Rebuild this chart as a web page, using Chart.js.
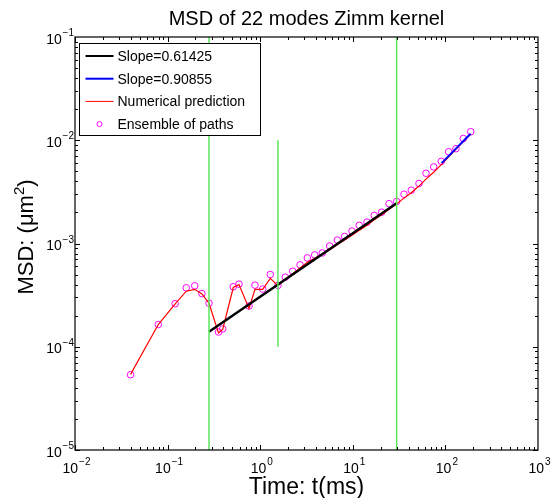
<!DOCTYPE html>
<html>
<head>
<meta charset="utf-8">
<script src="https://cdn.jsdelivr.net/npm/chart.js@4.4.1/dist/chart.umd.min.js"></script>
<style>
  body { margin: 0; background: #fff; }
  #wrap { width: 551px; height: 498px; }
</style>
</head>
<body>
<div id="wrap"><canvas id="msd" width="551" height="498"></canvas></div>
<script>
// time points (ms) shared by the simulated paths and the numerical prediction
const timeMs = [0.0398, 0.0793, 0.1207, 0.159, 0.1964, 0.2347, 0.280, 0.3545, 0.3937, 0.512,
  0.590, 0.757, 0.878, 1.064, 1.286, 1.555, 1.867, 2.246, 2.694, 3.228,
  3.878, 4.684, 5.633, 6.804, 8.17, 9.80, 11.73, 14.24, 17.04, 20.51,
  24.65, 29.75, 35.71, 42.81, 51.84, 61.72, 74.75, 90.35, 108.5, 130.1,
  156.1, 187.7];

// ensemble of paths (circles)
const msdPaths = [5.36e-5, 1.64e-4, 2.61e-4, 3.72e-4, 3.89e-4, 3.27e-4, 2.64e-4, 1.39e-4, 1.49e-4, 3.81e-4,
  4.04e-4, 2.48e-4, 3.95e-4, 3.62e-4, 5.01e-4, 3.93e-4, 4.72e-4, 5.39e-4, 6.21e-4, 7.25e-4,
  7.75e-4, 8.10e-4, 9.46e-4, 1.08e-3, 1.17e-3, 1.32e-3, 1.50e-3, 1.61e-3, 1.87e-3, 2.01e-3,
  2.43e-3, 2.55e-3, 3.00e-3, 3.28e-3, 3.81e-3, 4.79e-3, 5.52e-3, 6.25e-3, 7.74e-3, 8.28e-3,
  1.04e-2, 1.21e-2];

// numerical prediction (red line)
const msdNumeric = [5.4e-5, 1.64e-4, 2.6e-4, 3.45e-4, 3.6e-4, 3.25e-4, 2.64e-4, 1.36e-4, 1.47e-4, 3.75e-4,
  4.0e-4, 2.35e-4, 3.6e-4, 3.6e-4, 4.6e-4, 3.9e-4, 4.5e-4, 5.1e-4, 5.8e-4, 6.6e-4,
  7.2e-4, 7.9e-4, 8.7e-4, 9.7e-4, 1.08e-3, 1.2e-3, 1.34e-3, 1.5e-3, 1.7e-3, 1.9e-3,
  2.15e-3, 2.42e-3, 2.75e-3, 3.1e-3, 3.6e-3, 4.2e-3, 4.9e-3, 5.8e-3, 6.9e-3, 8.2e-3,
  9.7e-3, 1.15e-2];

// power law fits
const slowFitT = [0.280, 29.75];
const slowFitMsd = [1.4e-4, 2.45e-3];
const fastFitT = [91, 187];
const fastFitMsd = [6.0e-3, 1.154e-2];

// vertical green markers: time, lower y, upper y
const markerT = [0.280, 1.555, 29.75];
const markerLo = [1e-5, 1e-4, 1e-5];
const markerHi = [1e-1, 1e-2, 1e-1];

const xDecades = [1e-2, 1e-1, 1e0, 1e1, 1e2, 1e3];
const yDecades = [1e-5, 1e-4, 1e-3, 1e-2, 1e-1];

const FONT = "'Liberation Sans', Arial, Helvetica, sans-serif";
const expOf = v => String(Math.round(Math.log10(v))).replace('-', '\u2212');
const pts = (xs, ys) => xs.map((x, i) => ({x: x, y: ys[i]}));

const datasets = [];
markerT.forEach((t, i) => {
  datasets.push({
    label: 'marker' + i,
    data: [{x: t, y: markerLo[i]}, {x: t, y: markerHi[i]}],
    borderColor: 'rgb(90,230,90)', borderWidth: 1.5, pointRadius: 0
  });
});
datasets.push({
  label: 'Slope=0.61425', inLegend: true,
  data: pts(slowFitT, slowFitMsd),
  borderColor: '#000', borderWidth: 2.5, pointRadius: 0
});
datasets.push({
  label: 'Slope=0.90855', inLegend: true,
  data: pts(fastFitT, fastFitMsd),
  borderColor: '#0000ff', borderWidth: 2, pointRadius: 0
});
datasets.push({
  label: 'Numerical prediction', inLegend: true,
  data: pts(timeMs, msdNumeric),
  borderColor: '#ff0000', borderWidth: 1.2, pointRadius: 0
});
datasets.push({
  label: 'Ensemble of paths', inLegend: true, isMarker: true,
  data: pts(timeMs, msdPaths),
  showLine: false, borderColor: '#ff00ff', backgroundColor: 'rgba(0,0,0,0)',
  pointRadius: 3.3, pointBorderWidth: 1, pointStyle: 'circle'
});

// matlab style box, inward ticks, power-of-ten labels, titles and boxed legend
const boxPlugin = {
  id: 'matlabBox',
  afterDraw(chart) {
    const ctx = chart.ctx;
    const {left, right, top, bottom} = chart.chartArea;
    const xs = chart.scales.x, ys = chart.scales.y;
    ctx.save();
    ctx.strokeStyle = '#000';
    ctx.lineWidth = 1;
    ctx.beginPath();
    for (let e = -2; e <= 2; e++) {
      for (let m = 1; m <= 9; m++) {
        const px = Math.round(xs.getPixelForValue(m * Math.pow(10, e))) + 0.5;
        const len = m === 1 ? 5 : 3;
        ctx.moveTo(px, bottom); ctx.lineTo(px, bottom - len);
        ctx.moveTo(px, top); ctx.lineTo(px, top + len);
      }
    }
    for (let e = -5; e <= -2; e++) {
      for (let m = 1; m <= 9; m++) {
        const py = Math.round(ys.getPixelForValue(m * Math.pow(10, e))) + 0.5;
        const len = m === 1 ? 5 : 3;
        ctx.moveTo(left, py); ctx.lineTo(left + len, py);
        ctx.moveTo(right, py); ctx.lineTo(right - len, py);
      }
    }
    ctx.stroke();
    ctx.lineWidth = 1.2;
    ctx.strokeRect(left, top, right - left, bottom - top);

    // tick labels 10^n
    ctx.fillStyle = '#000';
    ctx.textBaseline = 'alphabetic';
    ctx.textAlign = 'left';
    const big = '14px ' + FONT, small = '10px ' + FONT;
    xDecades.forEach(v => {
      const px = xs.getPixelForValue(v);
      const ex = expOf(v);
      ctx.font = big; const wb = ctx.measureText('10').width;
      ctx.font = small; const ws = ctx.measureText(ex).width;
      const x0 = px - (wb + ws) / 2 + 1;
      ctx.font = big; ctx.fillText('10', x0, bottom + 22.7);
      ctx.font = small; ctx.fillText(ex, x0 + wb + 1, bottom + 14.5);
    });
    yDecades.forEach(v => {
      const py = ys.getPixelForValue(v);
      const ex = expOf(v);
      ctx.font = small; const ws = ctx.measureText(ex).width;
      ctx.font = big; const wb = ctx.measureText('10').width;
      const xe = left - 1 - ws;
      ctx.fillText('10', xe - 0.8 - wb, py + 6.7);
      ctx.font = small; ctx.fillText(ex, xe, py - 1);
    });

    // titles
    const cx = (left + right) / 2;
    ctx.textAlign = 'center';
    ctx.font = '20px ' + FONT;
    ctx.fillText('MSD of 22 modes Zimm kernel', cx, 24.5);
    ctx.font = '23px ' + FONT;
    ctx.fillText('Time: t(ms)', cx, 494);

    ctx.save();
    ctx.translate(33.3, 237);
    ctx.rotate(-Math.PI / 2);
    ctx.textAlign = 'left';
    const yt1 = 'MSD: (\u03BCm', yt2 = '2', yt3 = ')';
    const f1 = '22px ' + FONT, f2 = '15px ' + FONT;
    ctx.font = f1; const w1 = ctx.measureText(yt1).width, w3 = ctx.measureText(yt3).width;
    ctx.font = f2; const w2 = ctx.measureText(yt2).width;
    let tx = -(w1 + w2 + w3) / 2;
    ctx.font = f1; ctx.fillText(yt1, tx, 0); tx += w1;
    ctx.font = f2; ctx.fillText(yt2, tx, -9); tx += w2;
    ctx.font = f1; ctx.fillText(yt3, tx, 0);
    ctx.restore();

    // legend
    const items = chart.data.datasets.filter(d => d.inLegend);
    const bx = left + 4.5, by = top + 6.5, bw = 181, bh = 92;
    ctx.fillStyle = '#fff';
    ctx.fillRect(bx, by, bw, bh);
    ctx.lineWidth = 1;
    ctx.strokeRect(bx, by, bw, bh);
    ctx.font = '14px ' + FONT;
    ctx.textAlign = 'left';
    ctx.textBaseline = 'middle';
    items.forEach((d, i) => {
      const y = by + 12.5 + i * 22.7;
      ctx.strokeStyle = d.borderColor;
      if (d.isMarker) {
        ctx.lineWidth = 1;
        ctx.beginPath();
        ctx.arc(bx + 20, y, 2.5, 0, Math.PI * 2);
        ctx.stroke();
      } else {
        ctx.lineWidth = d.borderWidth > 1.5 ? 2 : 1;
        ctx.beginPath();
        ctx.moveTo(bx + 6, y); ctx.lineTo(bx + 34, y);
        ctx.stroke();
      }
      ctx.fillStyle = '#000';
      ctx.fillText(d.label, bx + 38, y + 1);
    });
    ctx.restore();
  }
};

new Chart(document.getElementById('msd'), {
  type: 'line',
  data: {datasets: datasets},
  plugins: [boxPlugin],
  options: {
    responsive: false,
    animation: false,
    layout: {padding: {left: 0, right: 13, top: 37, bottom: 0}},
    elements: {line: {tension: 0}},
    plugins: {
      legend: {display: false},
      tooltip: {enabled: false},
      title: {display: false}
    },
    scales: {
      x: {
        type: 'logarithmic',
        min: 1e-2, max: 1e3,
        afterBuildTicks: s => { s.ticks = xDecades.map(v => ({value: v})); },
        afterFit: s => { s.height = 48; },
        grid: {display: false, drawTicks: false},
        border: {display: false},
        ticks: {display: false}
      },
      y: {
        type: 'logarithmic',
        min: 1e-5, max: 1e-1,
        afterBuildTicks: s => { s.ticks = yDecades.map(v => ({value: v})); },
        afterFit: s => { s.width = 75; },
        grid: {display: false, drawTicks: false},
        border: {display: false},
        ticks: {display: false}
      }
    }
  }
});
</script>
</body>
</html>
